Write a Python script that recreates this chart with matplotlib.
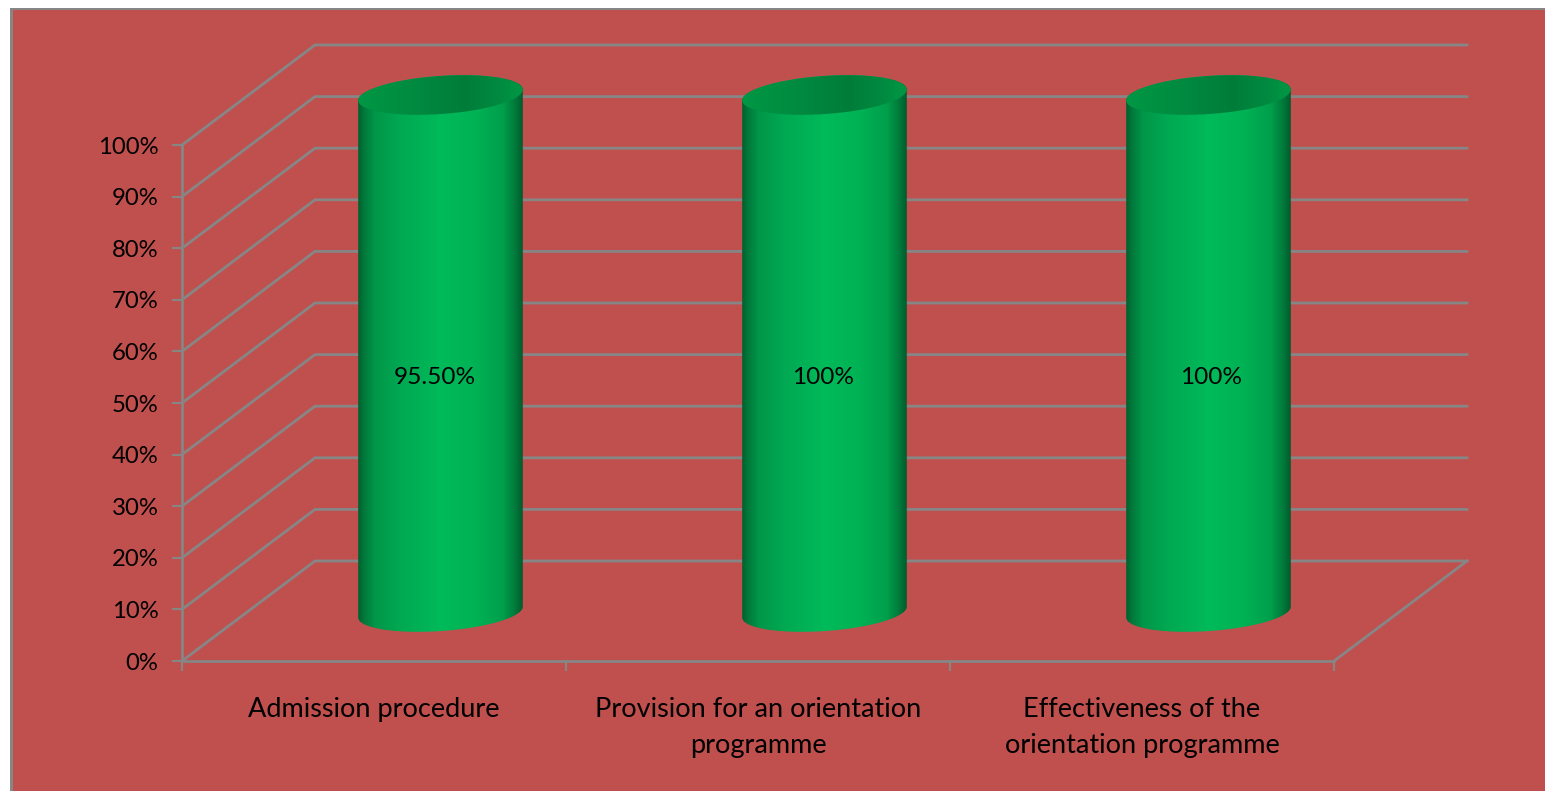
import numpy as np
import matplotlib
matplotlib.use("Agg")
import matplotlib.pyplot as plt
from matplotlib.colors import LinearSegmentedColormap
from matplotlib.patches import Polygon, Rectangle

categories = ["Admission procedure", "Provision for an orientation\nprogramme",
              "Effectiveness of the\norientation programme"]
value_labels = ["95.50%", "100%", "100%"]
drawn_heights = [100, 100, 100]
y_ticks = [0, 10, 20, 30, 40, 50, 60, 70, 80, 90, 100]

W, H = 1545, 791
RED, GRAY = "#C0504D", "#868686"
plt.rcParams["font.family"] = ["Lato", "DejaVu Sans"]
fig = plt.figure(figsize=(W / 100, H / 100), dpi=100, facecolor="white")
fig.add_artist(Rectangle((10 / W, 0), (W - 10) / W, (H - 8) / H, transform=fig.transFigure, fc=GRAY, ec="none", zorder=-2))
fig.add_artist(Rectangle((13 / W, 0), (W - 13) / W, (H - 10) / H, transform=fig.transFigure, fc=RED, ec="none", zorder=-1))

L, R, Y0, Y100 = 182, 1334, 661, 145
ax = fig.add_axes([L / W, 1 - Y0 / H, (R - L) / W, (Y0 - Y100) / H])
ax.patch.set_visible(False)
px_x = (R - L) / 3
px_y = (Y0 - Y100) / 100
dx, dy = 133 / px_x, 100 / px_y      # 3-D depth of the floor in data units
LW = 2.0

for v in y_ticks:
    ax.plot([0, dx, 3 + dx], [v, v + dy, v + dy], color=GRAY, lw=LW, clip_on=False, zorder=1,
            solid_joinstyle="miter")
ax.plot([3, 3 + dx], [0, dy], color=GRAY, lw=LW, clip_on=False, zorder=1)

body_cmap = LinearSegmentedColormap.from_list("body", [
    (0, "#00602D"), (0.03, "#00763A"), (0.10, "#009648"), (0.25, "#00A852"),
    (0.5, "#00BA59"), (0.7, "#00B355"), (0.88, "#009F4C"), (0.96, "#00763A"), (1, "#005C2C")])
cap_cmap = LinearSegmentedColormap.from_list("cap", [
    (0, "#009745"), (0.35, "#008A40"), (0.65, "#007C39"), (0.85, "#008A40"), (1, "#009745")])
A, B, TILT = 82.5, 19, np.radians(4)


def ellipse(cx, cy, t):
    ex = A * np.cos(t) * np.cos(TILT) - B * np.sin(t) * np.sin(TILT)
    ey = A * np.cos(t) * np.sin(TILT) + B * np.sin(t) * np.cos(TILT)
    return np.column_stack([cx + ex / px_x, cy + ey / px_y])


def fill(cmap, pts, x0, x1, y0, y1, z):
    im = ax.imshow(np.linspace(0, 1, 256)[None, :], cmap=cmap, extent=(x0, x1, y0, y1),
                   aspect="auto", interpolation="bilinear", zorder=z, vmin=0, vmax=1)
    im.set_clip_path(Polygon(pts, closed=True, transform=ax.transData))
    im.set_clip_box(fig.bbox)


half = A / px_x
for i, h in enumerate(drawn_heights):
    cx = i + 0.5 + dx / 2
    base, top = dy / 2 - 0.2, dy / 2 + h
    upper = ellipse(cx, top, np.linspace(0, np.pi, 90))
    lower = ellipse(cx, base, np.linspace(np.pi, 2 * np.pi, 90))
    fill(body_cmap, np.vstack([upper, lower]), cx - half, cx + half, base - 8, top + 8, 2)
    fill(cap_cmap, ellipse(cx, top, np.linspace(0, 2 * np.pi, 180)), cx - half, cx + half, top - 8, top + 8, 3)

label_shift = [-6, -1, 3]
for i, s in enumerate(value_labels):
    ax.text(i + 0.5 + dx / 2 + label_shift[i] / px_x, 55.0, s, ha="center", va="center",
            fontsize=17.6, color="black", zorder=5)

ax.set_xlim(0, 3)
ax.set_ylim(0, 100)
for s in ("top", "right"):
    ax.spines[s].set_visible(False)
for s in ("left", "bottom"):
    ax.spines[s].set_color(GRAY)
    ax.spines[s].set_linewidth(LW)
ax.set_yticks(y_ticks, [f"{v}%" for v in y_ticks])
ax.set_xticks([0, 1, 2, 3], [""] * 4)
ax.set_xticks([0.5, 1.5, 2.5], categories, minor=True)
ax.tick_params(axis="y", length=7, width=1.5, color=GRAY, labelsize=17.2, pad=10)
ax.tick_params(axis="x", which="major", length=7, width=1.5, color=GRAY)
ax.tick_params(axis="x", which="minor", length=0, labelsize=19.5, pad=26)
for t in ax.get_xticklabels(minor=True):
    t.set_linespacing(1.56)

fig.savefig("out.png", dpi=100, facecolor="white")
